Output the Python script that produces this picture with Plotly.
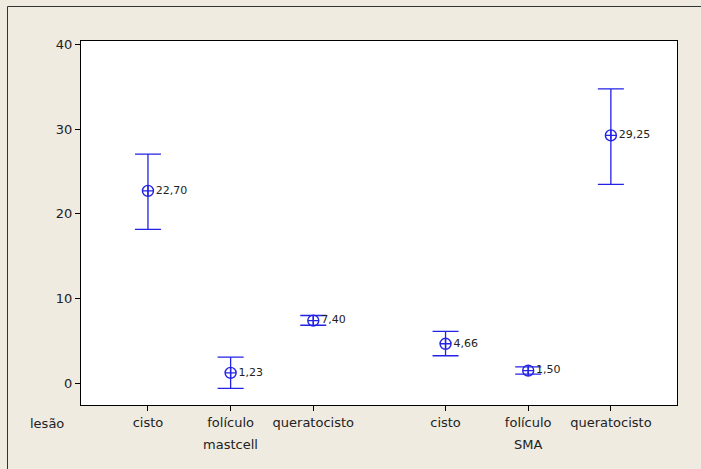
import plotly.graph_objects as go

# Data
categories = ["cisto", "folículo", "queratocisto", "cisto", "folículo", "queratocisto"]
groups = ["mastcell", "SMA"]
x_pos = [0, 1, 2, 3.6, 4.6, 5.6]
means = [22.70, 1.23, 7.40, 4.66, 1.50, 29.25]
upper = [27.05, 3.08, 8.00, 6.12, 1.95, 34.75]
lower = [18.17, -0.60, 6.85, 3.25, 1.08, 23.48]
mean_labels = ["22,70", "1,23", "7,40", "4,66", "1,50", "29,25"]
y_ticks = [0, 10, 20, 30, 40]

BLUE = "#2323E6"
TXT = "#222222"
BG = "#EFEBE1"
FONT = "DejaVu Sans"

err_plus = [u - m for u, m in zip(upper, means)]
err_minus = [m - l for m, l in zip(means, lower)]

fig = go.Figure()
fig.add_trace(go.Scatter(
    x=x_pos, y=means,
    mode="markers+text",
    text=mean_labels,
    textposition="middle right",
    textfont=dict(family=FONT, size=11, color=TXT),
    marker=dict(symbol="circle-cross-open", size=11, color=BLUE, line=dict(width=1.4, color=BLUE)),
    error_y=dict(type="data", symmetric=False, array=err_plus, arrayminus=err_minus,
                 color=BLUE, thickness=1.3, width=13),
    showlegend=False,
    cliponaxis=False,
))

PW = 596.0
PH = 364.0
# group labels and row label
for gx, g in zip([x_pos[1], x_pos[4]], groups):
    fig.add_annotation(x=gx, y=(405 - 444) / PH, xref="x", yref="paper", text=g, showarrow=False,
                       font=dict(family=FONT, size=13, color=TXT), xanchor="center", yanchor="middle")
fig.add_annotation(x=(47 - 81) / PW, y=(405 - 423) / PH, xref="paper", yref="paper", text="lesão",
                   showarrow=False, font=dict(family=FONT, size=13, color=TXT),
                   xanchor="center", yanchor="middle")

# outer frame (left and top edges only; the rest lies outside the picture)
fx = (7.5 - 81) / PW
fy = (405 - 6.5) / PH
fig.add_shape(type="line", xref="paper", yref="paper", x0=fx, x1=fx, y0=-0.2, y1=fy,
              line=dict(color="#333333", width=1), layer="below")
fig.add_shape(type="line", xref="paper", yref="paper", x0=fx, x1=1.0 + 30 / PW, y0=fy, y1=fy,
              line=dict(color="#333333", width=1), layer="below")

fig.update_xaxes(range=[-0.81, 6.40], tickvals=x_pos, ticktext=categories,
                 showline=True, linecolor="black", linewidth=1, mirror=True,
                 ticks="outside", ticklen=5, tickcolor="black", showgrid=False, zeroline=False,
                 tickfont=dict(family=FONT, size=13, color=TXT))
fig.update_yaxes(range=[-2.56, 40.39], tickvals=y_ticks, ticktext=[str(v) for v in y_ticks],
                 showline=True, linecolor="black", linewidth=1, mirror=True,
                 ticks="outside", ticklen=5, tickcolor="black", showgrid=False, zeroline=False,
                 tickfont=dict(family=FONT, size=13, color=TXT))

fig.update_layout(width=701, height=469,
                  margin=dict(l=81, r=24, t=41, b=64),
                  paper_bgcolor=BG, plot_bgcolor="white",
                  font=dict(family=FONT, color=TXT))

fig.write_html("out.html", config={"displayModeBar": False},
               post_script="document.body.style.margin='0';document.body.style.overflow='hidden';"
                           "document.documentElement.style.overflow='hidden';")
